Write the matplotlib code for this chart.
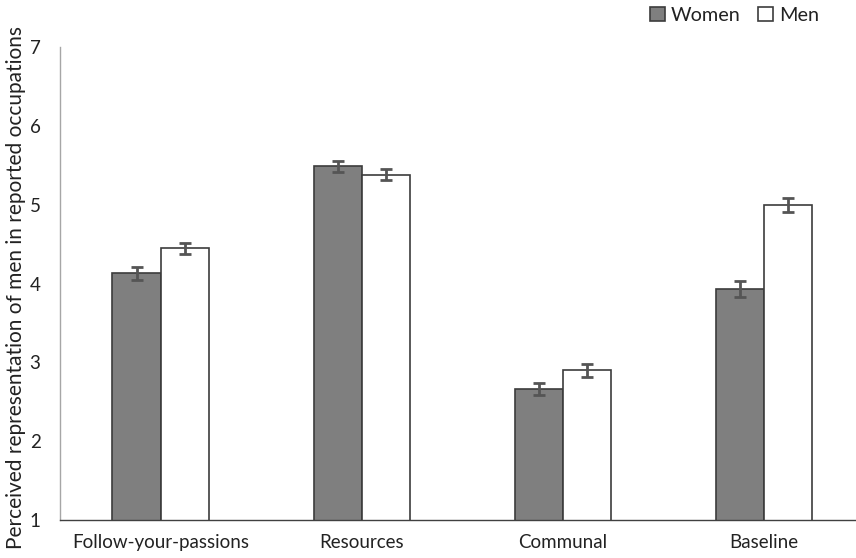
import matplotlib
matplotlib.use("Agg")
import matplotlib.pyplot as plt
import numpy as np

categories = ["Follow-your-passions", "Resources", "Communal", "Baseline"]
women = [4.13, 5.49, 2.66, 3.93]
men = [4.45, 5.38, 2.90, 5.00]
women_err = [0.08, 0.07, 0.08, 0.10]
men_err = [0.07, 0.07, 0.08, 0.09]
yticks = [1, 2, 3, 4, 5, 6, 7]

plt.rcParams['font.family'] = ['Lato', 'DejaVu Sans']

fig = plt.figure(figsize=(8.56, 5.58), dpi=100)
ax = fig.add_axes([60/856, (558-520)/558, (856-60)/856, (520-47)/558])

x = np.arange(len(categories))
w = 0.239
ax.bar(x - w/2, women, w, bottom=0, color="#7f7f7f", edgecolor="#3c3c3c", linewidth=1.2,
       yerr=women_err, error_kw=dict(ecolor="#555555", elinewidth=2, capsize=4, capthick=2), label="Women")
ax.bar(x + w/2, men, w, color="white", edgecolor="#3c3c3c", linewidth=1.2,
       yerr=men_err, error_kw=dict(ecolor="#555555", elinewidth=2, capsize=4, capthick=2), label="Men")

ax.set_ylim(1, 7)
ax.set_xlim(-0.5, 3.458)
ax.set_yticks(yticks)
ax.set_xticks(x)
ax.set_xticklabels(categories)
ax.tick_params(axis='both', length=0, labelsize=13.5, colors="#222222", pad=10)
ax.tick_params(axis='y', pad=14)
for s in ["top", "right"]:
    ax.spines[s].set_visible(False)
ax.spines["left"].set_color("#a6a6a6")
ax.spines["bottom"].set_color("#404040")
ax.spines["left"].set_linewidth(1.0)
ax.spines["bottom"].set_linewidth(1.0)

ax.set_ylabel("Perceived representation of men in reported occupations", fontsize=15,
              color="#222222")
ax.yaxis.set_label_coords(-34/796, 0.5 - 4/473)

leg = fig.legend(loc="upper right", bbox_to_anchor=(0.978, 1.02), ncol=2, frameon=False,
                 fontsize=14.3, handlelength=0.75, handleheight=0.75, handletextpad=0.3,
                 columnspacing=0.9)
for t in leg.get_texts():
    t.set_color("#222222")

fig.savefig("out.png", dpi=100)
